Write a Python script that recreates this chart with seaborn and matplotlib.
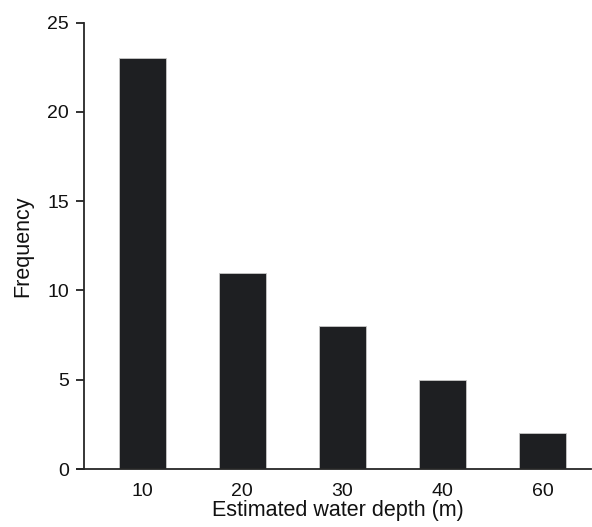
import pandas as pd
import numpy as np
import matplotlib.pyplot as plt
import seaborn as sns

depths = ['10', '20', '30', '40', '60']
freq = [23, 11, 8, 5, 2]

df = pd.DataFrame({'Depth': depths, 'Frequency': freq})

sns.set_style('ticks')
plt.rcParams['font.family'] = ['Liberation Sans', 'DejaVu Sans']

fig = plt.figure(figsize=(5.92, 5.27), dpi=100)
ax = fig.add_axes([0.142, 0.11, 0.856, 0.847])

sns.barplot(data=df, x='Depth', y='Frequency', color='#1e1f22', width=0.47,
            edgecolor='#c8c8c8', linewidth=0.6, saturation=1, ax=ax)

ax.set_xlim(-0.58, 4.48)
ax.set_ylim(0, 25)
ax.set_yticks([0, 5, 10, 15, 20, 25])
ax.spines['top'].set_visible(False)
ax.spines['right'].set_visible(False)
ax.spines['left'].set_linewidth(1.3)
ax.spines['bottom'].set_linewidth(1.3)
ax.spines['bottom'].set_bounds(-0.58 - 0.07, 4.48)
ax.tick_params(axis='y', length=6, width=1.3, labelsize=14, color='#222222',
               labelcolor='#111111', pad=5)
ax.tick_params(axis='x', length=0, labelsize=14, pad=10, labelcolor='#111111')
ax.set_xlabel('Estimated water depth (m)', fontsize=15.5, labelpad=0, color='#111111')
ax.set_ylabel('Frequency', fontsize=15.5, labelpad=10, color='#111111')

fig.savefig('out.png', dpi=100)
